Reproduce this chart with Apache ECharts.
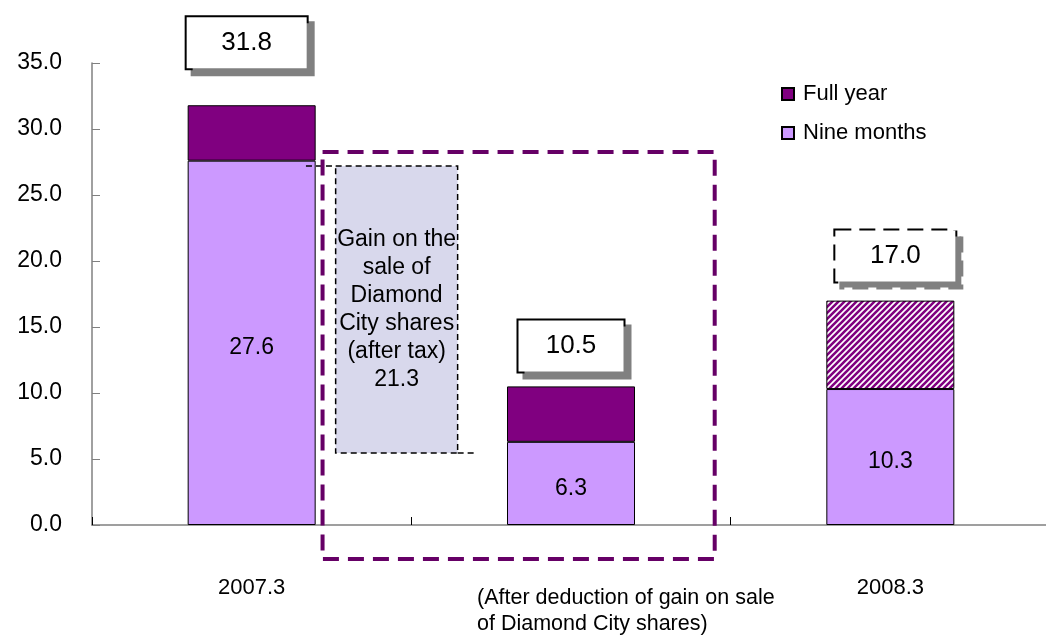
<!DOCTYPE html>
<html>
<head>
<meta charset="utf-8">
<script src="https://cdn.jsdelivr.net/npm/echarts@6/dist/echarts.min.js"></script>
<style>
html,body{margin:0;padding:0;background:#fff;}
#chart{width:1046px;height:635px;}
</style>
</head>
<body>
<div id="chart"></div>
<script>
const categories = ['2007.3', '', '2008.3'];
const nineMonths = [27.6, 6.3, 10.3];
const fullYear = [4.2, 4.2, 6.7];
const totals = [31.8, 10.5, 17.0];
const gainValue = 21.3;
const yTicks = [0, 5, 10, 15, 20, 25, 30, 35];
const noteText = '(After deduction of gain on sale\nof Diamond City shares)';

const FONT = '"Liberation Sans", Arial, sans-serif';

// hatch pattern for forecast segment
const pc = document.createElement('canvas');
pc.width = 6; pc.height = 6;
const g = pc.getContext('2d');
g.fillStyle = '#ffffff'; g.fillRect(0, 0, 6, 6);
g.strokeStyle = '#800080'; g.lineWidth = 2.6;
g.beginPath();
g.moveTo(-1, 7); g.lineTo(7, -1);
g.moveTo(-1, 1); g.lineTo(1, -1);
g.moveTo(5, 7); g.lineTo(7, 5);
g.stroke();
const hatch = { image: pc, repeat: 'repeat' };

const boxBase = {
  show: true, position: 'top', color: '#000', fontSize: 26, fontFamily: FONT,
  backgroundColor: '#fff', borderColor: '#000', borderWidth: 2,
  shadowColor: '#808080', shadowOffsetX: 6, shadowOffsetY: 6, shadowBlur: 0,
  padding: 0, width: 120, height: 51, lineHeight: 51, align: 'center'
};
const boxOpts = [
  { distance: 37, offset: [-5, 0], width: 120 },
  { distance: 15, offset: [0, 0], width: 105 },
  { distance: 20, offset: [5, 1], width: 120, borderType: 'dashed', borderWidth: 2 }
];

const fullYearData = fullYear.map((v, i) => {
  const item = { value: v, label: Object.assign({}, boxBase, boxOpts[i], { formatter: totals[i].toFixed(1) }) };
  if (i === 2) item.itemStyle = { color: hatch };
  return item;
});

function renderNotes(params, api) {
  const c = api.coord([0, 0]);
  const band = api.size([1, 0])[0];
  const gTop = api.coord([0, 27.2])[1];
  const gBot = api.coord([0, 5.45])[1];
  const gx0 = c[0] + band * 0.263, gx1 = c[0] + band * 0.645;
  const pTop = api.coord([0, 28.26])[1];
  const pBot = api.coord([0, -2.58])[1];
  const px0 = c[0] + band * 0.222, px1 = c[0] + band * 1.45;
  const dash = { stroke: '#000', lineWidth: 1.5, lineDash: [6, 4], fill: null };
  return {
    type: 'group',
    children: [
      { type: 'rect', shape: { x: gx0, y: gTop, width: gx1 - gx0, height: gBot - gTop },
        style: { fill: '#D8D8EC', stroke: '#000', lineWidth: 1.5, lineDash: [6, 4] } },
      { type: 'line', shape: { x1: c[0] + band * 0.17, y1: gTop, x2: gx0, y2: gTop }, style: dash },
      { type: 'line', shape: { x1: gx1, y1: gBot, x2: gx1 + 17, y2: gBot }, style: dash },
      { type: 'text', style: {
          text: 'Gain on the\nsale of\nDiamond\nCity shares\n(after tax)\n' + gainValue.toFixed(1),
          x: (gx0 + gx1) / 2, y: (gTop + gBot) / 2, align: 'center', verticalAlign: 'middle',
          fontSize: 23, fontFamily: FONT, lineHeight: 28, fill: '#000' } },
      { type: 'rect', shape: { x: px0, y: pTop, width: px1 - px0, height: pBot - pTop },
        style: { fill: null, stroke: '#660066', lineWidth: 4, lineDash: [16, 9] } }
    ]
  };
}

const chart = echarts.init(document.getElementById('chart'));
chart.setOption({
  animation: false,
  backgroundColor: '#fff',
  grid: { left: 92, top: 63, bottom: 110, width: 958, containLabel: false, outerBoundsMode: 'none' },
  legend: {
    data: ['Full year', 'Nine months'],
    orient: 'vertical', left: 776, top: 78, itemGap: 17,
    itemWidth: 12, itemHeight: 12, icon: 'rect',
    textStyle: { fontSize: 22, fontFamily: FONT, color: '#000', padding: [0, 0, 0, 4] }
  },
  xAxis: {
    type: 'category', data: categories,
    axisLine: { lineStyle: { color: '#808080', width: 1.5 } },
    axisTick: { show: true, inside: true, length: 8, lineStyle: { color: '#000' } },
    axisLabel: { fontSize: 22, fontFamily: FONT, color: '#000', margin: 52 }
  },
  yAxis: {
    type: 'value', min: yTicks[0], max: yTicks[yTicks.length - 1], interval: 5,
    splitLine: { show: false },
    axisLine: { show: true, lineStyle: { color: '#808080', width: 1.5 } },
    axisTick: { show: true, inside: true, length: 8, lineStyle: { color: '#808080' } },
    axisLabel: { fontSize: 23, fontFamily: FONT, color: '#000', margin: 30,
      formatter: v => v.toFixed(1) }
  },
  series: [
    {
      name: 'Nine months', type: 'bar', stack: 'a', barWidth: 128, data: nineMonths,
      itemStyle: { color: '#CC99FF', borderColor: '#000', borderWidth: 1 },
      label: { show: true, position: 'inside', offset: [0, 5], fontSize: 23, fontFamily: FONT, color: '#000',
        formatter: p => p.value.toFixed(1) }
    },
    {
      name: 'Full year', type: 'bar', stack: 'a', barWidth: 128, data: fullYearData,
      itemStyle: { color: '#800080', borderColor: '#000', borderWidth: 1 }
    },
    {
      type: 'custom', renderItem: renderNotes, data: [[0, 0]], clip: false, z: 5,
      silent: true, tooltip: { show: false }
    }
  ],
  graphic: [
    { type: 'text', left: 477, top: 585,
      style: { text: noteText, fontSize: 21.5, fontFamily: FONT, lineHeight: 26, fill: '#000' } }
  ]
});
</script>
</body>
</html>
